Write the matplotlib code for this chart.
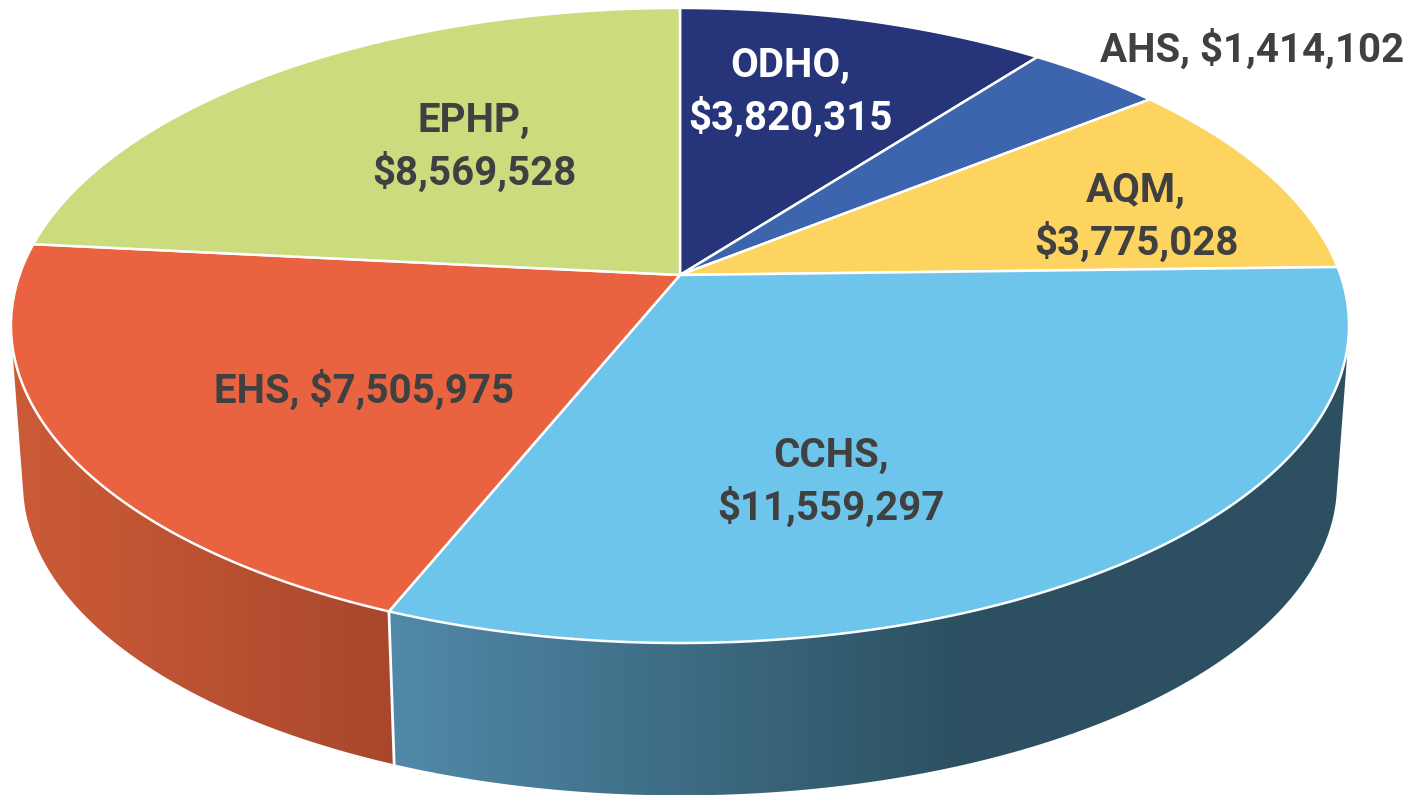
import numpy as np
import matplotlib
matplotlib.use("Agg")
import matplotlib.pyplot as plt
from matplotlib.colors import to_rgb, LinearSegmentedColormap
from matplotlib.patches import Polygon

# going clockwise from the top of the pie
names = ["ODHO", "AHS", "AQM", "CCHS", "EHS", "EPHP"]
amounts = [3820315, 1414102, 3775028, 11559297, 7505975, 8569528]
label_texts = ["ODHO,\n$3,820,315", "AHS, $1,414,102", "AQM,\n$3,775,028",
               "CCHS,\n$11,559,297", "EHS, $7,505,975", "EPHP,\n$8,569,528"]

top_colors = ["#263479", "#3c65ae", "#fcd45f", "#6ec5ec", "#ea6340", "#cbdc7f"]
text_colors = ["white", "#404040", "#404040", "#404040", "#404040", "#404040"]
label_xy = [(790, 92), (1252, 49), (1136, 217), (831, 482), (364, 390), (474, 147)]

# perspective of the pie, pixels
CX, CY = 680, 275
A, B, K = 660.5, 309.5, 0.159
DROP, SHRINK = 159, 0.982


def project(theta, lower=False):
    u, v = np.sin(theta), np.cos(theta)
    w = 1 + K * v
    s = SHRINK if lower else 1.0
    y0 = CY + DROP if lower else CY
    return CX + s * A * u / w, y0 - s * B * v / w


def front_facing(th):
    # keep the angles whose wall quad faces the viewer
    xt, yt = project(th)
    xb, yb = project(th, lower=True)
    cross = np.gradient(xt) * (yb - yt) - np.gradient(yt) * (xb - xt)
    return th[cross < 0]


def draw_wall(ax, i, c_left, c_right, x_left, x_right):
    th = front_facing(np.linspace(edges[i], edges[i + 1], 600))
    xt, yt = project(th)
    xb, yb = project(th, lower=True)
    poly = Polygon(np.c_[np.r_[xt, xb[::-1]], np.r_[yt, yb[::-1]]], closed=True,
                   facecolor="none", edgecolor="none", transform=ax.transData)
    ax.add_patch(poly)
    cmap = LinearSegmentedColormap.from_list("wall", [to_rgb(c_left), to_rgb(c_right)])
    im = ax.imshow(np.linspace(0, 1, 256).reshape(1, -1), cmap=cmap, aspect="auto",
                   extent=(x_left, x_right, 795, 0), zorder=1)
    im.set_clip_path(poly)
    # anything past the ramp stays at the end colour
    x_min, x_max = min(xt.min(), xb.min()), max(xt.max(), xb.max())
    for x0, x1, col in [(x_min, x_left, c_left), (x_right, x_max, c_right)]:
        if x1 > x0:
            im2 = ax.imshow([[0]], cmap=LinearSegmentedColormap.from_list("f", [col, col]),
                            aspect="auto", extent=(x0, x1, 795, 0), zorder=1)
            im2.set_clip_path(poly)


fig = plt.figure(figsize=(14.18, 7.95), dpi=100)
ax = fig.add_axes([0, 0, 1, 1])
edges = np.cumsum([0] + amounts) / sum(amounts) * 2 * np.pi

# walls first, the top goes over them
draw_wall(ax, 3, "#5089a8", "#2c5061", 397, 960)
draw_wall(ax, 4, "#ca5a37", "#a8472c", 40, 397)

# white seam between the two walls
seam = np.array([edges[4]])
xt, yt = project(seam)
xb, yb = project(seam, lower=True)
ax.plot([xt[0], xb[0]], [yt[0], yb[0]], color="white", lw=2, zorder=2)

# top of the pie
for i, name in enumerate(names):
    th = np.linspace(edges[i], edges[i + 1], 200)
    x, y = project(th)
    ax.fill(np.r_[CX, x], np.r_[CY, y], facecolor=top_colors[i],
            edgecolor="white", lw=1.8, joinstyle="round", zorder=3)

for i, txt in enumerate(label_texts):
    ax.text(label_xy[i][0], label_xy[i][1], txt, ha="center", va="center",
            color=text_colors[i], fontsize=29, fontweight="bold",
            family="Roboto", linespacing=1.36, zorder=4)

ax.set_xlim(0, 1418)
ax.set_ylim(795, 0)
ax.axis("off")
fig.savefig("out.png", dpi=100, facecolor="white")
